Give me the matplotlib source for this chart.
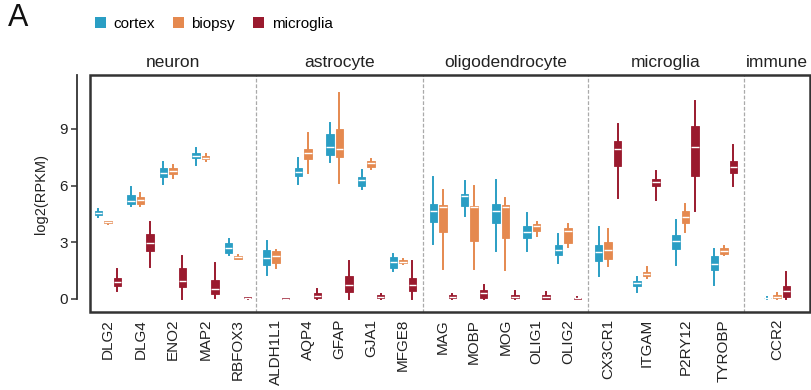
import numpy as np
import matplotlib.pyplot as plt
from matplotlib.patches import Patch, Rectangle

plt.rcParams['font.family'] = ['Liberation Sans', 'DejaVu Sans']

# marker genes per cell type
cell_types = ['neuron', 'astrocyte', 'oligodendrocyte', 'microglia', 'immune']
genes = [
    ['DLG2', 'DLG4', 'ENO2', 'MAP2', 'RBFOX3'],
    ['ALDH1L1', 'AQP4', 'GFAP', 'GJA1', 'MFGE8'],
    ['MAG', 'MOBP', 'MOG', 'OLIG1', 'OLIG2'],
    ['CX3CR1', 'ITGAM', 'P2RY12', 'TYROBP'],
    ['CCR2'],
]
sources = ['cortex', 'biopsy', 'microglia']
colors = {'cortex': '#2a9ec4', 'biopsy': '#e5894f', 'microglia': '#9a1a2e'}

# whisker low, Q1, median, Q3, whisker high (log2 RPKM), gene order as above
cortex = [
    (4.35, 4.42, 4.53, 4.66, 4.75), (4.90, 5.00, 5.20, 5.50, 5.95), (6.07, 6.47, 6.68, 6.91, 7.26),
    (7.09, 7.44, 7.58, 7.74, 7.97), (2.33, 2.45, 2.68, 2.95, 3.17),
    (1.29, 1.82, 2.17, 2.57, 3.05), (6.06, 6.50, 6.73, 6.95, 7.47), (7.26, 7.61, 8.05, 8.71, 9.33),
    (5.80, 6.00, 6.27, 6.46, 6.80), (1.46, 1.64, 1.98, 2.23, 2.38),
    (2.93, 4.08, 4.64, 5.05, 6.45), (4.38, 4.91, 5.44, 5.58, 6.24), (2.52, 4.03, 4.64, 5.05, 6.27),
    (2.56, 3.20, 3.53, 3.85, 4.56), (1.91, 2.35, 2.61, 2.88, 3.46),
    (1.20, 1.99, 2.47, 2.88, 3.79), (0.37, 0.70, 0.84, 0.97, 1.15), (1.81, 2.66, 3.05, 3.36, 4.16),
    (0.72, 1.52, 1.87, 2.26, 2.66),
    (0.00, 0.03, 0.05, 0.07, 0.10),
]
biopsy = [
    (3.97, 4.00, 4.06, 4.12, 4.14), (4.94, 5.03, 5.24, 5.41, 5.59), (6.38, 6.60, 6.77, 6.91, 7.09),
    (7.32, 7.39, 7.48, 7.58, 7.66), (2.10, 2.14, 2.20, 2.28, 2.33),
    (1.64, 1.90, 2.26, 2.52, 2.61), (6.68, 7.42, 7.74, 7.95, 8.76), (6.11, 7.51, 7.92, 9.01, 10.92),
    (6.86, 7.00, 7.17, 7.30, 7.42), (1.83, 1.90, 1.98, 2.07, 2.12),
    (1.60, 3.55, 4.85, 4.96, 5.74), (1.59, 3.05, 4.86, 4.91, 6.00), (1.55, 3.22, 4.88, 4.96, 5.33),
    (3.32, 3.58, 3.85, 3.99, 4.06), (2.76, 2.97, 3.62, 3.76, 3.94),
    (1.72, 2.12, 2.61, 3.00, 3.72), (1.10, 1.19, 1.34, 1.45, 1.68), (3.54, 4.02, 4.32, 4.64, 5.02),
    (2.35, 2.40, 2.56, 2.70, 2.79),
    (0.00, 0.05, 0.13, 0.22, 0.31),
]
microglia = [
    (0.40, 0.70, 0.90, 1.10, 1.57), (1.71, 2.56, 2.98, 3.44, 4.09), (0.00, 0.65, 0.97, 1.62, 2.29),
    (0.04, 0.26, 0.55, 1.00, 1.89), (0.02, 0.05, 0.07, 0.09, 0.12),
    (0.00, 0.01, 0.02, 0.03, 0.05), (0.00, 0.05, 0.15, 0.30, 0.53), (0.00, 0.37, 0.76, 1.20, 1.99),
    (0.00, 0.04, 0.10, 0.19, 0.26), (0.00, 0.44, 0.72, 1.11, 1.99),
    (0.02, 0.05, 0.12, 0.20, 0.25), (0.00, 0.05, 0.30, 0.49, 0.76), (0.00, 0.05, 0.13, 0.22, 0.44),
    (0.00, 0.02, 0.12, 0.20, 0.37), (0.00, 0.02, 0.04, 0.06, 0.08),
    (5.35, 7.05, 7.95, 8.34, 9.27), (5.26, 5.96, 6.17, 6.37, 6.76), (4.64, 6.50, 8.04, 9.15, 10.50),
    (6.00, 6.68, 6.98, 7.29, 8.13),
    (0.00, 0.10, 0.40, 0.70, 1.43),
]
stats_by_source = {'cortex': cortex, 'biopsy': biopsy, 'microglia': microglia}

W, H, DPI = 812, 390, 100
fig = plt.figure(figsize=(W / DPI, H / DPI), dpi=DPI)

left, right, bottom, top = 90 / W, 810 / W, 1 - 312 / H, 1 - 75 / H
panel_px = [166, 167, 165, 156, 66]
pads = [0.55, 0.63, 0.64, 0.52, 0.5]
gs = fig.add_gridspec(1, len(cell_types), width_ratios=panel_px, wspace=0,
                      left=left, right=right, bottom=bottom, top=top)

ymin, ymax = -0.69, 11.85
box_px, dodge_px = 7.5, 9.5

gene_idx = 0
axes = []
for p, ct in enumerate(cell_types):
    ax = fig.add_subplot(gs[0, p])
    axes.append(ax)
    n = len(genes[p])
    lo, hi = 1 - pads[p], n + pads[p]
    ax.set_xlim(lo, hi)
    ax.set_ylim(ymin, ymax)
    units_per_px = (hi - lo) / panel_px[p]
    width = box_px * units_per_px
    dodge = dodge_px * units_per_px
    pos = np.arange(1, n + 1)

    for k, src in enumerate(sources):
        rows = stats_by_source[src][gene_idx:gene_idx + n]
        bstats = [dict(whislo=r[0], q1=r[1], med=r[2], q3=r[3], whishi=r[4]) for r in rows]
        c = colors[src]
        ax.bxp(bstats, positions=pos + (k - 1) * dodge, widths=width,
               patch_artist=True, showcaps=False, showfliers=False,
               boxprops=dict(facecolor=c, edgecolor=c, linewidth=0.6),
               whiskerprops=dict(color=c, linewidth=1.4),
               medianprops=dict(color='white', linewidth=1.0),
               manage_ticks=False)
    gene_idx += n

    ax.set_xticks(pos)
    ax.set_xticklabels(genes[p], rotation=90, fontsize=11, color='#222222')
    ax.tick_params(axis='x', length=0, pad=5)
    ax.set_title(ct, fontsize=12.5, pad=6, color='#222222')

    for s in ('top', 'right', 'bottom'):
        ax.spines[s].set_visible(False)
    if p == 0:
        ax.spines['left'].set_visible(False)
    else:
        ax.spines['left'].set_color('#aaaaaa')
        ax.spines['left'].set_linestyle((0, (2, 2.5)))
        ax.spines['left'].set_linewidth(0.9)
        ax.set_yticks([])

# detached y axis on the first panel
ax0 = axes[0]
ax0.spines['left'].set_visible(True)
ax0.spines['left'].set_position(('outward', 9))
ax0.spines['left'].set_bounds(0, ymax)
ax0.spines['left'].set_color('#333333')
ax0.spines['left'].set_linewidth(1.3)
ax0.set_yticks([0, 3, 6, 9])
ax0.tick_params(axis='y', length=4, width=1.1, color='#333333', labelsize=11,
                labelcolor='#222222', pad=3)
ax0.set_ylabel('log2(RPKM)', fontsize=10.5, color='#222222', labelpad=8)

# outer frame around all panels
fig.patches.append(Rectangle((left, bottom), right - left, top - bottom,
                             transform=fig.transFigure, fill=False,
                             edgecolor='#333333', linewidth=1.8, zorder=5))

handles = [Patch(facecolor=colors[s], edgecolor='none', label=s) for s in sources]
fig.legend(handles=handles, loc='center left', bbox_to_anchor=(95 / W, 1 - 24 / H),
           ncol=3, frameon=False, fontsize=11, handlelength=0.7, handleheight=0.7,
           handletextpad=0.5, columnspacing=1.2, borderpad=0, borderaxespad=0)

fig.text(8 / W, 1 - 18 / H, 'A', fontsize=22, va='center', ha='left', color='#111111')

fig.savefig('out.png', dpi=DPI)
